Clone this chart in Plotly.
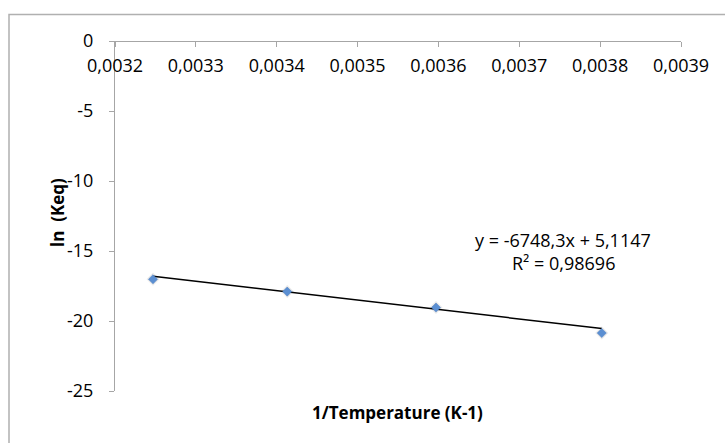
import plotly.graph_objects as go

# ---- data ----
inv_temperature = [0.003247, 0.003413, 0.003597, 0.003802]
ln_keq = [-17.02, -17.90, -19.04, -20.86]

trend_slope = -6748.3
trend_intercept = 5.1147
equation_text = "y = -6748,3x + 5,1147"
r2_text = "R² = 0,98696"

x_tick_vals = [0.0032, 0.0033, 0.0034, 0.0035, 0.0036, 0.0037, 0.0038, 0.0039]
x_tick_text = ["0,0032", "0,0033", "0,0034", "0,0035", "0,0036", "0,0037", "0,0038", "0,0039"]
y_tick_vals = [0, -5, -10, -15, -20, -25]
y_tick_text = ["0", "-5", "-10", "-15", "-20", "-25"]

x_title = "1/Temperature (K-1)"
y_title = "ln  (Keq)"

FONT = "Open Sans"
AXIS_GRAY = "#a6a6a6"

trend_x = [min(inv_temperature), max(inv_temperature)]
trend_y = [trend_slope * v + trend_intercept for v in trend_x]

fig = go.Figure()

# soft shadow under markers
fig.add_trace(go.Scatter(
    x=inv_temperature, y=ln_keq, mode="markers",
    marker=dict(symbol="diamond", size=10, color="rgba(120,120,120,0.16)", line=dict(width=0)),
    hoverinfo="skip", showlegend=False,
))
fig.add_trace(go.Scatter(
    x=trend_x, y=trend_y, mode="lines",
    line=dict(color="black", width=1.5), showlegend=False,
))
fig.add_trace(go.Scatter(
    x=inv_temperature, y=ln_keq, mode="markers",
    marker=dict(symbol="diamond", size=7, color="#5b8fd2", line=dict(width=0.5, color="#4a7cc0")),
    showlegend=False,
))

fig.update_layout(
    width=725, height=443,
    margin=dict(l=115.3, r=43.7, t=40.7, b=52.3, autoexpand=False),
    paper_bgcolor="white", plot_bgcolor="white",
    font=dict(family=FONT, size=18, color="black"),
    xaxis=dict(
        range=[0.0032, 0.0039], side="bottom", anchor="free", position=1,
        tickmode="array", tickvals=x_tick_vals, ticktext=x_tick_text,
        ticks="outside", ticklen=5, tickcolor=AXIS_GRAY, tickwidth=1,
        ticklabelstandoff=3,
        showline=True, linecolor=AXIS_GRAY, linewidth=1,
        showgrid=False, zeroline=False, automargin=False,
        tickfont=dict(family=FONT, size=18, color="black"),
    ),
    yaxis=dict(
        range=[-25, 0], domain=[0, 1],
        tickmode="array", tickvals=y_tick_vals, ticktext=y_tick_text,
        ticks="outside", ticklen=5, tickcolor=AXIS_GRAY, tickwidth=1,
        ticklabelstandoff=12,
        showline=True, linecolor=AXIS_GRAY, linewidth=1,
        showgrid=False, zeroline=False, automargin=False,
        tickfont=dict(family=FONT, size=18, color="black"),
    ),
    shapes=[dict(
        type="rect", xref="paper", yref="paper",
        x0=(9.3 - 115.3) / 566, x1=1.2, y0=-0.3, y1=(390.7 - 14.3) / 350,
        line=dict(color="#b0b0b0", width=1.5), fillcolor="rgba(0,0,0,0)", layer="below",
    )],
    annotations=[
        dict(text=equation_text, xref="paper", yref="paper",
             x=(563.5 - 115.3) / 566, y=(390.7 - 239.5) / 350,
             showarrow=False, xanchor="center", yanchor="middle",
             font=dict(family=FONT, size=18, color="black")),
        dict(text=r2_text, xref="paper", yref="paper",
             x=(563.5 - 115.3) / 566, y=(390.7 - 262.5) / 350,
             showarrow=False, xanchor="center", yanchor="middle",
             font=dict(family=FONT, size=18, color="black")),
        dict(text="<b>" + x_title + "</b>", xref="paper", yref="paper",
             x=(398 - 115.3) / 566, y=(390.7 - 412) / 350,
             showarrow=False, xanchor="center", yanchor="middle",
             font=dict(family=FONT, size=17, color="black")),
        dict(text="<b>" + y_title + "</b>", xref="paper", yref="paper",
             x=(58 - 115.3) / 566, y=(390.7 - 212) / 350, textangle=-90,
             showarrow=False, xanchor="center", yanchor="middle",
             font=dict(family=FONT, size=17, color="black")),
    ],
)

fig.write_html("out.html", config={"displayModeBar": False},
               post_script="document.body.style.margin='0px';")
